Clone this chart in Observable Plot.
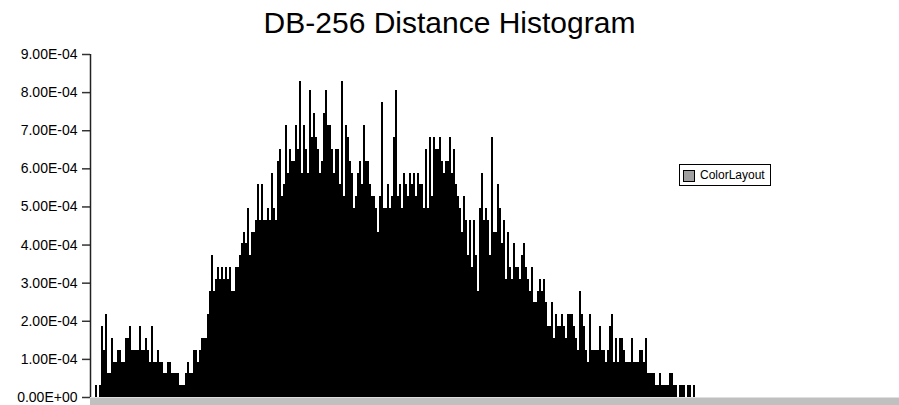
<!DOCTYPE html>
<html>
<head>
<meta charset="utf-8">
<script src="https://cdn.jsdelivr.net/npm/d3@7"></script>
<script src="https://cdn.jsdelivr.net/npm/@observablehq/plot@0.6"></script>
<style>
  html, body { margin: 0; padding: 0; background: #fff; }
  #wrap { position: relative; width: 899px; height: 405px; overflow: hidden; font-family: "Liberation Sans", Arial, sans-serif; }
  #title { position: absolute; left: 0; top: 8px; width: 899px; text-align: center; font-size: 30px; line-height: 1; color: #000; }
  #chart { position: absolute; left: 0; top: 40px; }
  #legend { position: absolute; left: 679px; top: 164px; width: 90px; height: 20px; border: 1px solid #000; background: #fff; font-size: 12px; }
  #legend .sw { position: absolute; left: 3px; top: 5px; width: 10px; height: 10px; border: 1px solid #000; }
  #legend .lb { position: absolute; left: 20px; top: 3px; line-height: 14px; color: #000; }
</style>
</head>
<body>
<div id="wrap">
  <div id="title"></div>
  <div id="chart"></div>
  <div id="legend"><div class="sw"></div><div class="lb"></div></div>
</div>
<script>
const titleText = "DB-256 Distance Histogram";
const seriesName = "ColorLayout";
const seriesColor = "#a0a0a0";

// relative frequency per distance bin, in units of 1E-04
const freqE4 = [
  0.31,0,0.31,1.86,1.24,2.17,0.62,0.62,1.55,0.93,
  0.93,1.24,1.24,0.93,0.93,1.55,1.55,1.86,1.24,1.24,
  1.24,1.24,1.86,1.24,1.24,1.55,1.24,0.93,1.86,0.93,
  0.93,1.24,0.93,0.93,0.62,0.62,0.93,0.93,0.62,0.62,
  0.62,0.62,0.31,0.31,0.31,0.62,0.93,0.62,0.62,1.24,
  1.24,0.93,1.24,1.55,1.55,1.55,2.17,2.79,3.72,2.79,
  3.1,3.41,3.1,3.41,3.1,3.41,3.1,3.41,2.79,2.79,
  3.41,3.41,3.72,4.03,4.34,4.03,4.96,3.72,4.34,4.34,
  4.65,5.58,4.65,5.58,4.65,4.65,4.96,4.65,5.89,4.96,
  4.65,6.2,6.51,5.27,5.58,7.13,5.89,6.51,6.2,6.2,
  7.13,6.51,8.3,5.89,7.13,6.51,5.89,8.06,6.82,7.44,
  6.82,6.51,5.89,6.2,7.44,8.06,7.13,7.13,6.51,5.89,
  6.51,6.51,5.58,8.3,5.27,7.13,6.82,6.2,5.89,4.96,
  5.27,5.89,6.2,5.58,7.13,6.2,6.2,5.58,5.27,5.27,
  4.96,4.34,5.27,7.75,4.96,4.96,5.58,4.96,5.27,6.82,
  8.06,5.27,5.58,4.96,5.89,5.58,5.27,5.89,5.58,5.89,
  5.27,5.89,5.58,5.58,4.96,6.51,4.96,6.82,5.27,6.82,
  6.51,6.51,6.82,6.2,5.89,6.2,6.2,6.82,5.89,6.51,
  5.58,5.27,4.96,4.34,5.27,4.65,3.72,4.65,3.41,4.65,
  3.72,2.79,4.96,5.89,4.65,4.96,4.65,3.72,6.82,4.34,
  4.34,5.58,4.96,4.03,4.65,3.1,4.34,3.41,3.1,4.03,
  3.41,3.41,3.1,3.72,4.03,3.41,3.1,2.79,3.41,2.48,
  2.48,2.79,3.1,2.79,3.1,2.48,1.86,1.86,2.48,1.55,
  2.17,1.86,1.86,2.17,1.86,1.55,2.17,2.17,2.17,1.86,
  1.55,1.24,2.79,2.17,1.86,1.24,0.93,2.17,1.24,1.24,
  1.24,1.24,1.86,1.24,1.24,0.93,1.24,1.86,2.17,0.93,
  1.55,0.93,1.55,1.55,1.24,0.93,0.93,0.93,1.55,0.93,
  0.93,0.93,1.24,1.24,0.93,1.55,0.62,0.62,0.62,0.62,
  0.31,0.31,0.62,0.31,0.31,0.31,0.31,0.62,0.62,0.31,
  0.31,0,0.31,0.31,0.31,0,0.31,0.31,0,0.31
];

const yTicks = [0, 1, 2, 3, 4, 5, 6, 7, 8, 9];
const yTickLabels = ["0.00E+00","1.00E-04","2.00E-04","3.00E-04","4.00E-04","5.00E-04","6.00E-04","7.00E-04","8.00E-04","9.00E-04"];
const binCount = 404; // number of distance bins on the x axis

const bins = freqE4.map((v, i) => ({bin: i, v}));

document.getElementById("title").textContent = titleText;
document.querySelector("#legend .sw").style.background = seriesColor;
document.querySelector("#legend .lb").textContent = seriesName;

const chart = Plot.plot({
  width: 899,
  height: 365,
  marginLeft: 90,
  marginRight: 0,
  marginTop: 14,
  marginBottom: 8,
  style: {fontFamily: "'Liberation Sans', Arial, sans-serif", fontSize: "14px", background: "#fff", color: "#000"},
  x: {domain: [-2.5, binCount - 2], axis: null},
  y: {domain: [0, 9], axis: null},
  marks: [
    Plot.ruleY([0], {stroke: "#c0c0c0", strokeWidth: 8, dy: 4}),
    Plot.rectY(bins, {x1: "bin", x2: d => d.bin + 1, y1: 0, y2: "v", fill: "#000", inset: 0, shapeRendering: "crispEdges"}),
    Plot.axisY({ticks: yTicks, tickFormat: (d) => yTickLabels[yTicks.indexOf(d)], label: null, tickSize: 8, tickPadding: 5, stroke: "#333", strokeWidth: 1.5, fontSize: 14, color: "#000"}),
    Plot.ruleX([-2.5], {y1: 0, y2: 9, stroke: "#222", strokeWidth: 1.5})
  ]
});
document.getElementById("chart").appendChild(chart);
</script>
</body>
</html>
